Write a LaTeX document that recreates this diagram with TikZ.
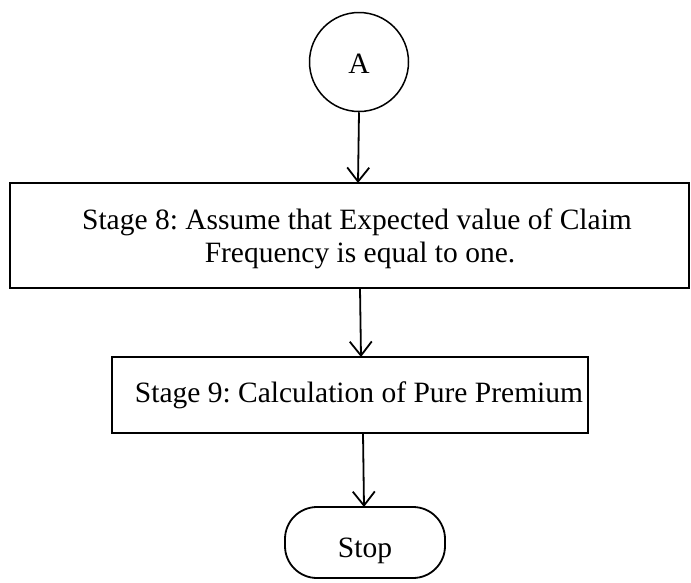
\documentclass[tikz,border=0pt]{standalone}
\usepackage{fontspec}
\setmainfont{Liberation Serif}
\usetikzlibrary{arrows.meta}
\begin{document}
\frenchspacing
\begin{tikzpicture}[x=1pt,y=-1pt,
  lbl/.style={font=\fontsize{29.5}{34}\selectfont\frenchspacing,inner sep=0pt,anchor=base},
  conn/.style={line width=1.8pt,-{Straight Barb[length=14pt,width=22pt,line width=1.8pt]}},
  edge/.style={line width=1.8pt}]
\useasboundingbox (0,0) rectangle (691,582);
\node[draw,circle,line width=1.5pt,minimum size=99pt,inner sep=0pt] (a) at (359,62) {};
\node[lbl] (at) at (359,73) {A};
\draw[edge] (10,183) rectangle (689,288);
\coordinate (b1top) at (358,183);
\coordinate (b1bot) at (360,288);
\node[lbl] (t8a) at (357,229) {Stage 8: Assume that Expected value of Claim};
\node[lbl] (t8b) at (360,262) {Frequency is equal to one.};
\draw[edge] (112,357) rectangle (588,433);
\coordinate (b2top) at (361,357);
\coordinate (b2bot) at (363,433);
\node[lbl] (t9) at (359,402) {Stage 9: Calculation of Pure Premium};
\draw[edge,rounded corners=32pt] (285,507) rectangle (445,578);
\coordinate (stoptop) at (364,507);
\node[lbl] (stop) at (365,557) {Stop};
\draw[conn] (a.south) -- (b1top);
\draw[conn] (b1bot) -- (b2top);
\draw[conn] (b2bot) -- (stoptop);
\end{tikzpicture}
\end{document}
